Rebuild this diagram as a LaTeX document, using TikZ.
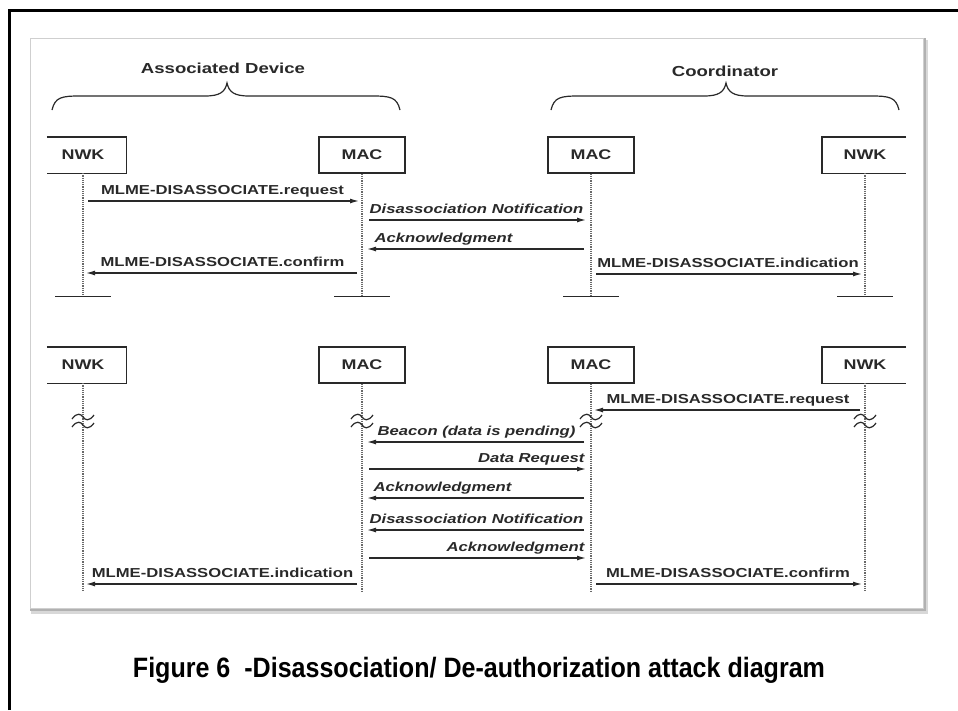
\documentclass[tikz,border=0pt]{standalone}
\usepackage{fontspec}
\setmainfont{Liberation Sans}
\newfontfamily\widesans[FakeStretch=1.28]{Liberation Sans}
\newfontfamily\capsans[FakeStretch=0.895]{Liberation Sans}
\usetikzlibrary{arrows.meta,positioning}
\definecolor{ink}{rgb}{0.16,0.16,0.16}
\definecolor{shade}{rgb}{0.62,0.62,0.62}

\begin{document}
\begin{tikzpicture}[x=1pt,y=-1pt,>={Latex[length=9pt,width=5pt]},
  layer/.style={minimum width=86pt,minimum height=36pt,inner sep=0pt,text=ink,
    font=\widesans\bfseries\fontsize{14}{16}\selectfont},
  box/.style={layer,draw=ink,line width=1.4pt},
  life/.style={draw=ink!70,densely dotted,line width=1.2pt},
  endbar/.style={draw=ink,line width=1.4pt},
  msg/.style={->,draw=ink,line width=1.3pt,shorten >=3pt,shorten <=5pt},
  inner/.style={->,draw=ink,line width=1.3pt,shorten >=5pt,shorten <=7pt},
  lbl/.style={font=\widesans\bfseries\fontsize{13}{15}\selectfont,text=ink,
    inner sep=0pt,text depth=0pt,anchor=south,yshift=6pt},
  ilbl/.style={lbl,font=\widesans\bfseries\itshape\fontsize{13}{15}\selectfont},
  head/.style={font=\widesans\bfseries\fontsize{14.5}{17}\selectfont,text=ink,
    inner sep=0pt,text depth=0pt,anchor=base},
  brk/.style={draw=ink,line width=1.2pt}]

  \useasboundingbox (0,0) rectangle (958,710);

  % frame and shaded panel
  \draw[line width=3pt] (9,710) -- (9,10) -- (958,10);
  \fill[shade!40] (31,40) rectangle (928,614);
  \fill[shade!80] (30,38) rectangle (926,611);
  \filldraw[fill=white,draw=shade!50,line width=0.6pt] (30,38) rectangle (923,608);

  % the two sides
  \node[head] (devhead) at (223,73) {Associated Device};
  \node[head] (coordhead) at (725,76) {Coordinator};
  \foreach \sx in {0,499}
    \draw[brk,xshift=\sx pt] (52,110) .. controls (55,97) and (62,96) .. (80,96) -- (205,96)
      .. controls (220,96) and (225,92) .. (227,83) .. controls (229,92) and (234,96) .. (249,96)
      -- (372,96) .. controls (390,96) and (397,97) .. (400,110);

  % upper exchange
  \node[layer] (tnwkL) at (83,155) {NWK};
  \node[box] (tmacL) at (362,155) {MAC};
  \node[box] (tmacR) at (591,155) {MAC};
  \node[layer] (tnwkR) at (865,155) {NWK};
  \draw[endbar] ([xshift=7pt]tnwkL.north west) -- (tnwkL.north east) -- (tnwkL.south east) -- ([xshift=7pt]tnwkL.south west);
  \draw[endbar] ([xshift=-2pt]tnwkR.north east) -- (tnwkR.north west) -- (tnwkR.south west) -- ([xshift=-2pt]tnwkR.south east);

  \coordinate[below=123pt of tnwkL.south] (tnwkLe);
  \coordinate[below=123pt of tmacL.south] (tmacLe);
  \coordinate[below=123pt of tmacR.south] (tmacRe);
  \coordinate[below=123pt of tnwkR.south] (tnwkRe);
  \path[life] (tnwkL) edge (tnwkLe)
    (tmacL) edge (tmacLe)
    (tmacR) edge (tmacRe)
    (tnwkR) edge (tnwkRe);
  \draw[endbar] ([xshift=-28pt]tnwkLe) -- ([xshift=28pt]tnwkLe);
  \draw[endbar] ([xshift=-28pt]tmacLe) -- ([xshift=28pt]tmacLe);
  \draw[endbar] ([xshift=-28pt]tmacRe) -- ([xshift=28pt]tmacRe);
  \draw[endbar] ([xshift=-28pt]tnwkRe) -- ([xshift=28pt]tnwkRe);

  \draw[msg] (tnwkL |- 0,201) -- node[lbl] {MLME-DISASSOCIATE.request} (tmacL |- 0,201);
  \draw[inner] (tmacL |- 0,220) -- node[ilbl] {Disassociation Notification} (tmacR |- 0,220);
  \draw[inner] (tmacR |- 0,249) -- node[ilbl,pos=1,anchor=south west,xshift=12pt] {Acknowledgment} (tmacL |- 0,249);
  \draw[msg] (tmacL |- 0,273) -- node[lbl] {MLME-DISASSOCIATE.confirm} (tnwkL |- 0,273);
  \draw[msg] (tmacR |- 0,274) -- node[lbl] {MLME-DISASSOCIATE.indication} (tnwkR |- 0,274);

  % lower exchange
  \node[layer] (bnwkL) at (83,365) {NWK};
  \node[box] (bmacL) at (362,365) {MAC};
  \node[box] (bmacR) at (591,365) {MAC};
  \node[layer] (bnwkR) at (865,365) {NWK};
  \draw[endbar] ([xshift=7pt]bnwkL.north west) -- (bnwkL.north east) -- (bnwkL.south east) -- ([xshift=7pt]bnwkL.south west);
  \draw[endbar] ([xshift=-2pt]bnwkR.north east) -- (bnwkR.north west) -- (bnwkR.south west) -- ([xshift=-2pt]bnwkR.south east);

  \coordinate[below=209pt of bnwkL.south] (bnwkLe);
  \coordinate[below=209pt of bmacL.south] (bmacLe);
  \coordinate[below=209pt of bmacR.south] (bmacRe);
  \coordinate[below=209pt of bnwkR.south] (bnwkRe);
  \path[life] (bnwkL) edge (bnwkLe)
    (bmacL) edge (bmacLe)
    (bmacR) edge (bmacRe)
    (bnwkR) edge (bnwkRe);

  % time breaks
  \foreach \lane in {bnwkL,bmacL,bmacR,bnwkR} {
    \begin{scope}[shift={(\lane |- 0,417)}]
      \draw[brk] (-11,2) .. controls (-6,-5) and (-2,-3) .. (0,0) .. controls (2,3) and (6,5) .. (11,-2);
      \draw[brk] (-11,10) .. controls (-6,3) and (-2,5) .. (0,8) .. controls (2,11) and (6,13) .. (11,6);
    \end{scope}
  }

  \draw[msg] (bnwkR |- 0,410) -- node[lbl] {MLME-DISASSOCIATE.request} (bmacR |- 0,410);
  \draw[inner] (bmacR |- 0,442) -- node[ilbl] {Beacon (data is pending)} (bmacL |- 0,442);
  \draw[inner] (bmacL |- 0,469) -- node[ilbl,pos=1,anchor=south east,xshift=-6pt] {Data Request} (bmacR |- 0,469);
  \draw[inner] (bmacR |- 0,498) -- node[ilbl,pos=1,anchor=south west,xshift=11pt] {Acknowledgment} (bmacL |- 0,498);
  \draw[inner] (bmacR |- 0,530) -- node[ilbl] {Disassociation Notification} (bmacL |- 0,530);
  \draw[inner] (bmacL |- 0,558) -- node[ilbl,pos=1,anchor=south east,xshift=-6pt] {Acknowledgment} (bmacR |- 0,558);
  \draw[msg] (bmacL |- 0,584) -- node[lbl] {MLME-DISASSOCIATE.indication} (bnwkL |- 0,584);
  \draw[msg] (bmacR |- 0,584) -- node[lbl] {MLME-DISASSOCIATE.confirm} (bnwkR |- 0,584);

  \node[font=\capsans\bfseries\fontsize{28}{31}\selectfont,anchor=base] (caption) at (479,677)
    {Figure 6\ \ -Disassociation/ De-authorization attack diagram};
\end{tikzpicture}
\end{document}
